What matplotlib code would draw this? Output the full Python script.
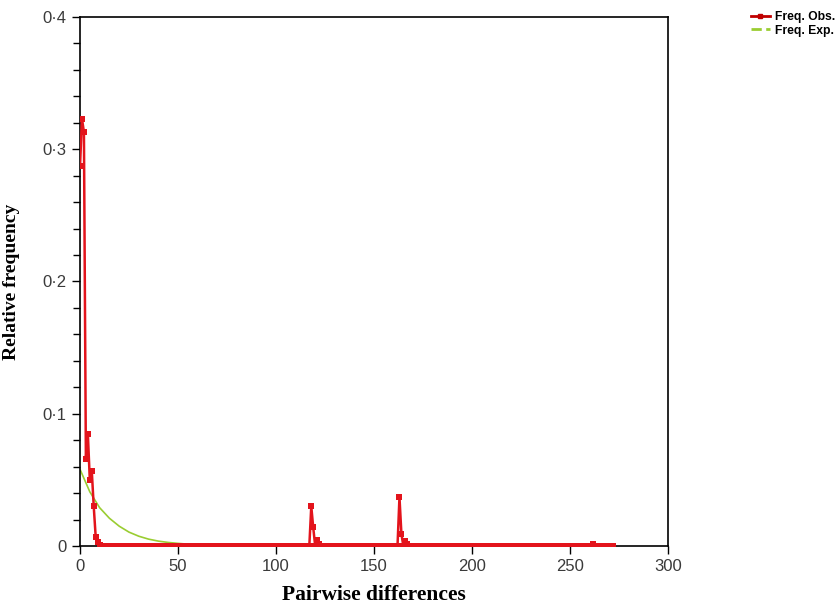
import matplotlib
matplotlib.use('Agg')
import matplotlib.pyplot as plt
from matplotlib.lines import Line2D
from matplotlib.ticker import FixedLocator, MultipleLocator
import numpy as np

# Observed mismatch distribution: pairwise differences 0..272, non-zero values only
OBS_MAX_DIFF = 272
OBS_NZ_X = [0, 1, 2, 3, 4, 5, 6, 7, 8, 9, 10,
            118, 119, 121, 122,
            163, 164, 166, 167,
            262]
OBS_NZ_Y = [0.287, 0.323, 0.313, 0.066, 0.085, 0.050, 0.057, 0.030, 0.007, 0.003, 0.001,
            0.030, 0.014, 0.0045, 0.0015,
            0.037, 0.009, 0.004, 0.0015,
            0.0015]

# Expected (model) curve
EXP_X = [0, 5, 10, 15, 20, 25, 30, 35, 40, 45, 50, 55, 60, 65, 70, 80, 90, 100, 120, 150, 200, 272]
EXP_Y = [0.058, 0.041, 0.029, 0.021, 0.015, 0.0105, 0.0074, 0.0052, 0.0037, 0.0027, 0.0020,
         0.0014, 0.0010, 0.0007, 0.0005, 0.0002, 0.0001, 0.00005, 0.0, 0.0, 0.0, 0.0]

Y_TICKS = [0, 0.1, 0.2, 0.3, 0.4]
Y_TICK_LABELS = ['0', '0·1', '0·2', '0·3', '0·4']
X_TICKS = [0, 50, 100, 150, 200, 250, 300]

obs_x = np.arange(OBS_MAX_DIFF + 1)
obs_y = np.zeros_like(obs_x, dtype=float)
obs_y[OBS_NZ_X] = OBS_NZ_Y

RED = '#E3141C'
GREEN = '#9ACD32'

plt.rcParams['font.family'] = ['Liberation Sans', 'DejaVu Sans']

fig = plt.figure(figsize=(8.36, 6.04), dpi=100)
ax = fig.add_axes([0.0957, 0.096, 0.7033, 0.876])

ax.plot(EXP_X, EXP_Y, '-', color=GREEN, linewidth=1.2, zorder=2)
ax.plot(obs_x, obs_y, '-', color=RED, linewidth=1.8, marker='s', markersize=5,
        markeredgewidth=0, zorder=3)

ax.set_xlim(0, 300)
ax.set_ylim(0, 0.4)
ax.xaxis.set_major_locator(FixedLocator(X_TICKS))
ax.yaxis.set_major_locator(FixedLocator(Y_TICKS))
ax.set_yticklabels(Y_TICK_LABELS)
ax.yaxis.set_minor_locator(MultipleLocator(0.02))
ax.tick_params(axis='both', which='major', direction='out', length=6, width=1,
               labelsize=12, labelcolor='#3a3a3a')
ax.tick_params(axis='y', which='minor', direction='out', length=5, width=1)
for s in ax.spines.values():
    s.set_linewidth(1.2)

ax.set_xlabel('Pairwise differences', fontsize=15.5, fontweight='bold',
              family='Liberation Serif', labelpad=8)
ax.set_ylabel('Relative frequency', fontsize=14, fontweight='bold',
              family='Liberation Serif', labelpad=16)

handles = [
    Line2D([], [], color='#C00000', linewidth=2, marker='s', markersize=3),
    Line2D([], [], color=GREEN, linewidth=2, linestyle='--'),
]
fig.legend(handles, ['Freq. Obs.', 'Freq. Exp.'], loc='upper left',
           bbox_to_anchor=(0.888, 0.995), frameon=False, handlelength=1.6,
           handletextpad=0.4, labelspacing=0.1, borderpad=0.2,
           prop={'weight': 'bold', 'size': 8.7})

plt.savefig('out.png', dpi=100)
